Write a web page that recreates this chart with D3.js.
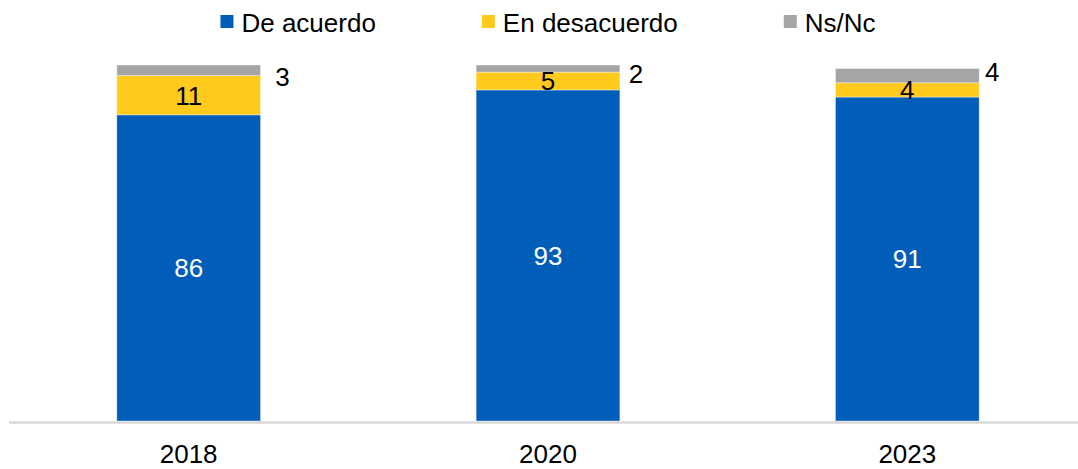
<!DOCTYPE html>
<html>
<head>
<meta charset="utf-8">
<script src="https://cdn.jsdelivr.net/npm/d3@7"></script>
<style>
  html, body { margin: 0; padding: 0; background: #ffffff; }
  svg { display: block; font-family: "Liberation Sans", Arial, sans-serif; }
</style>
</head>
<body>
<svg id="chart" width="1078" height="469"></svg>
<script>
// Survey answers by year (percent)
const years = ["2018", "2020", "2023"];
const deAcuerdo = [86, 93, 91];
const enDesacuerdo = [11, 5, 4];
const nsNc = [3, 2, 4];

const seriesNames = ["De acuerdo", "En desacuerdo", "Ns/Nc"];
const seriesColors = ["#005EB8", "#FFCA1B", "#A5A5A5"];
const labelColors = ["#ffffff", "#000000", "#000000"];

// Offsets of the Ns/Nc labels, placed outside to the right of each bar
const outsideLabelOffsets = [[22, 12], [16, 9], [13, 3]];

const rows = years.map((y, i) => ({
  year: y,
  "De acuerdo": deAcuerdo[i],
  "En desacuerdo": enDesacuerdo[i],
  "Ns/Nc": nsNc[i]
}));

const svg = d3.select("#chart");

const x = d3.scaleBand()
  .domain(years)
  .range([9, 1087])
  .paddingInner(0.6)
  .paddingOuter(0.3);

const y = d3.scaleLinear()
  .domain([0, 100])
  .range([421, 65]);

const stacked = d3.stack().keys(seriesNames)(rows);

// Bars
const layers = svg.append("g")
  .selectAll("g")
  .data(stacked)
  .join("g")
  .attr("fill", (d, i) => seriesColors[i]);

layers.selectAll("rect")
  .data(d => d)
  .join("rect")
  .attr("x", d => x(d.data.year))
  .attr("width", x.bandwidth())
  .attr("y", d => y(d[1]))
  .attr("height", d => y(d[0]) - y(d[1]))
  .attr("stroke", "#ffffff")
  .attr("stroke-opacity", 0.5)
  .attr("stroke-width", 0.75);

// Axis line
svg.append("line")
  .attr("x1", 9).attr("x2", 1078)
  .attr("y1", 422.5).attr("y2", 422.5)
  .attr("stroke", "#d9d9d9")
  .attr("stroke-width", 2.5);

// Category labels
const xAxis = svg.append("g")
  .attr("transform", "translate(0,421)")
  .call(d3.axisBottom(x).tickSize(0).tickPadding(0));
xAxis.select(".domain").remove();
xAxis.selectAll("text")
  .attr("dy", null)
  .attr("y", 42)
  .attr("font-size", 26)
  .attr("font-family", "Liberation Sans, Arial, sans-serif")
  .attr("fill", "#000000");

// Value labels inside the first two segments
stacked.slice(0, 2).forEach((layer, li) => {
  svg.append("g")
    .selectAll("text")
    .data(layer)
    .join("text")
    .attr("x", d => x(d.data.year) + x.bandwidth() / 2)
    .attr("y", d => (y(d[0]) + y(d[1])) / 2)
    .attr("dy", "0.36em")
    .attr("text-anchor", "middle")
    .attr("font-size", 26)
    .attr("fill", labelColors[li])
    .text(d => d[1] - d[0]);
});

// Ns/Nc labels beside the bars
svg.append("g")
  .selectAll("text")
  .data(stacked[2])
  .join("text")
  .attr("x", (d, i) => x(d.data.year) + x.bandwidth() + outsideLabelOffsets[i][0])
  .attr("y", (d, i) => y(d[1]) + outsideLabelOffsets[i][1])
  .attr("dy", "0.36em")
  .attr("text-anchor", "middle")
  .attr("font-size", 26)
  .attr("fill", labelColors[2])
  .text(d => d[1] - d[0]);

// Legend, centred above the plot
const legend = svg.append("g");
const items = legend.selectAll("g")
  .data(seriesNames)
  .join("g");
items.append("rect")
  .attr("width", 13).attr("height", 13)
  .attr("y", 15)
  .attr("fill", (d, i) => seriesColors[i]);
items.append("text")
  .attr("x", 21)
  .attr("y", 32)
  .attr("font-size", 26)
  .attr("fill", "#000000")
  .text(d => d);

let cursor = 0;
const gap = 106;
items.each(function () {
  const w = this.querySelector("text").getComputedTextLength() + 21;
  d3.select(this).attr("transform", `translate(${cursor},0)`);
  cursor += w + gap;
});
const legendWidth = cursor - gap;
legend.attr("transform", `translate(${548 - legendWidth / 2},0)`);
</script>
</body>
</html>
